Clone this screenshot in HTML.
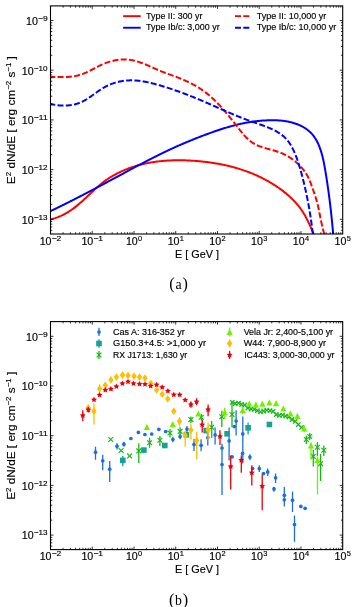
<!DOCTYPE html>
<html><head><meta charset="utf-8"><style>html,body{margin:0;padding:0;background:#fff;}svg{display:block;will-change:transform;} text{stroke:#000;stroke-width:0.15px;}</style></head><body>
<svg width="357" height="607" viewBox="0 0 357 607" font-family="Liberation Sans">
<rect width="357" height="607" fill="#fff"/>
<defs><clipPath id="ca"><rect x="50.50" y="5.90" width="292.20" height="228.10"/></clipPath><clipPath id="cb"><rect x="50.50" y="321.60" width="292.20" height="228.00"/></clipPath></defs>
<g clip-path="url(#ca)" fill="none" stroke-width="2.0" stroke-linejoin="round">
<path d="M50.50,219.50 L51.18,219.25 L51.97,219.06 L52.76,218.85 L53.54,218.63 L54.31,218.40 L55.08,218.16 L55.85,217.90 L56.61,217.63 L57.37,217.35 L58.13,217.06 L58.88,216.76 L59.62,216.45 L60.36,216.13 L61.10,215.80 L61.83,215.45 L62.56,215.10 L63.28,214.74 L64.00,214.37 L64.71,213.99 L65.42,213.60 L66.12,213.21 L66.82,212.80 L67.52,212.39 L68.20,211.97 L68.89,211.54 L69.57,211.10 L70.24,210.66 L70.91,210.21 L71.57,209.75 L72.23,209.29 L72.88,208.82 L73.53,208.34 L74.17,207.86 L74.81,207.38 L75.45,206.88 L76.08,206.39 L76.70,205.89 L77.33,205.38 L77.95,204.87 L78.56,204.36 L79.17,203.84 L79.78,203.32 L80.39,202.80 L80.99,202.27 L81.59,201.74 L82.19,201.21 L82.78,200.67 L83.37,200.14 L83.96,199.60 L84.55,199.06 L85.13,198.52 L85.71,197.98 L86.29,197.43 L86.87,196.89 L87.45,196.34 L88.03,195.80 L88.60,195.26 L89.17,194.71 L89.74,194.17 L90.32,193.63 L90.89,193.09 L91.46,192.55 L92.03,192.01 L92.59,191.47 L93.16,190.94 L93.73,190.40 L94.31,189.87 L94.88,189.34 L95.45,188.81 L96.03,188.29 L96.60,187.77 L97.18,187.25 L97.77,186.74 L98.35,186.22 L98.94,185.71 L99.53,185.21 L100.12,184.71 L100.72,184.21 L101.32,183.72 L101.93,183.23 L102.54,182.74 L103.15,182.26 L103.77,181.79 L104.40,181.32 L105.03,180.85 L105.67,180.39 L106.31,179.94 L106.96,179.49 L107.62,179.04 L108.28,178.60 L108.94,178.17 L109.61,177.74 L110.29,177.32 L110.97,176.90 L111.65,176.49 L112.34,176.08 L113.03,175.68 L113.73,175.28 L114.43,174.89 L115.14,174.51 L115.84,174.13 L116.56,173.75 L117.27,173.39 L117.99,173.02 L118.71,172.66 L119.44,172.31 L120.17,171.97 L120.90,171.63 L121.63,171.29 L122.36,170.96 L123.10,170.64 L123.84,170.32 L124.58,170.01 L125.33,169.70 L126.07,169.40 L126.82,169.10 L127.56,168.81 L128.31,168.53 L129.06,168.25 L129.82,167.97 L130.57,167.71 L131.33,167.44 L132.08,167.19 L132.84,166.93 L133.60,166.69 L134.36,166.44 L135.12,166.21 L135.89,165.98 L136.65,165.75 L137.42,165.53 L138.19,165.31 L138.96,165.10 L139.73,164.90 L140.50,164.70 L141.27,164.50 L142.04,164.31 L142.82,164.13 L143.60,163.94 L144.37,163.77 L145.15,163.60 L145.93,163.43 L146.71,163.27 L147.49,163.11 L148.27,162.96 L149.06,162.81 L149.84,162.67 L150.63,162.53 L151.41,162.39 L152.20,162.26 L152.99,162.14 L153.77,162.02 L154.56,161.90 L155.35,161.79 L156.14,161.68 L156.94,161.57 L157.73,161.48 L158.52,161.38 L159.32,161.29 L160.11,161.20 L160.90,161.12 L161.70,161.04 L162.50,160.96 L163.29,160.89 L164.09,160.83 L164.89,160.76 L165.69,160.70 L166.48,160.65 L167.28,160.59 L168.08,160.55 L168.88,160.50 L169.68,160.46 L170.48,160.42 L171.28,160.39 L172.09,160.36 L172.89,160.34 L173.69,160.31 L174.49,160.29 L175.29,160.28 L176.10,160.27 L176.90,160.26 L177.70,160.25 L178.50,160.25 L179.31,160.25 L180.11,160.25 L180.91,160.26 L181.72,160.27 L182.52,160.29 L183.32,160.30 L184.13,160.32 L184.93,160.35 L185.73,160.37 L186.54,160.40 L187.34,160.43 L188.14,160.47 L188.94,160.50 L189.75,160.54 L190.55,160.59 L191.35,160.63 L192.15,160.68 L192.95,160.73 L193.75,160.79 L194.56,160.84 L195.36,160.90 L196.16,160.96 L196.96,161.03 L197.75,161.10 L198.55,161.17 L199.35,161.24 L200.15,161.31 L200.95,161.39 L201.75,161.47 L202.54,161.55 L203.34,161.64 L204.13,161.73 L204.93,161.82 L205.72,161.91 L206.52,162.01 L207.31,162.11 L208.10,162.21 L208.90,162.32 L209.69,162.42 L210.48,162.54 L211.27,162.65 L212.06,162.77 L212.85,162.89 L213.64,163.01 L214.42,163.14 L215.21,163.26 L216.00,163.40 L216.78,163.53 L217.57,163.67 L218.35,163.81 L219.13,163.95 L219.92,164.10 L220.70,164.25 L221.48,164.41 L222.26,164.56 L223.04,164.72 L223.82,164.89 L224.59,165.05 L225.37,165.22 L226.14,165.40 L226.92,165.57 L227.69,165.75 L228.46,165.94 L229.24,166.12 L230.01,166.31 L230.78,166.51 L231.54,166.70 L232.31,166.90 L233.08,167.11 L233.84,167.32 L234.61,167.53 L235.37,167.74 L236.13,167.96 L236.89,168.18 L237.65,168.40 L238.41,168.63 L239.17,168.86 L239.92,169.10 L240.68,169.34 L241.43,169.58 L242.18,169.83 L242.93,170.08 L243.68,170.33 L244.43,170.59 L245.18,170.85 L245.92,171.12 L246.67,171.39 L247.41,171.66 L248.15,171.94 L248.89,172.22 L249.63,172.50 L250.37,172.79 L251.10,173.09 L251.84,173.38 L252.57,173.68 L253.30,173.99 L254.03,174.30 L254.76,174.61 L255.49,174.92 L256.21,175.25 L256.94,175.57 L257.66,175.90 L258.38,176.23 L259.10,176.57 L259.82,176.91 L260.53,177.26 L261.25,177.60 L261.96,177.96 L262.67,178.32 L263.38,178.68 L264.09,179.04 L264.79,179.42 L265.50,179.79 L266.20,180.17 L266.90,180.55 L267.60,180.94 L268.29,181.33 L268.99,181.73 L269.68,182.13 L270.37,182.54 L271.06,182.95 L271.75,183.36 L272.44,183.78 L273.12,184.21 L273.80,184.63 L274.48,185.07 L275.16,185.50 L275.84,185.95 L276.51,186.39 L277.18,186.84 L277.85,187.30 L278.52,187.76 L279.18,188.22 L279.84,188.69 L280.50,189.17 L281.16,189.65 L281.81,190.13 L282.46,190.62 L283.10,191.11 L283.74,191.61 L284.38,192.11 L285.01,192.61 L285.64,193.12 L286.27,193.64 L286.89,194.16 L287.50,194.68 L288.11,195.21 L288.72,195.74 L289.32,196.28 L289.92,196.82 L290.51,197.37 L291.09,197.92 L291.67,198.47 L292.25,199.03 L292.81,199.60 L293.37,200.17 L293.93,200.74 L294.48,201.32 L295.02,201.90 L295.56,202.49 L296.09,203.08 L296.61,203.67 L297.13,204.28 L297.63,204.88 L298.13,205.49 L298.63,206.10 L299.11,206.72 L299.59,207.34 L300.06,207.97 L300.52,208.60 L300.98,209.24 L301.42,209.88 L301.86,210.52 L302.29,211.17 L302.72,211.82 L303.14,212.48 L303.55,213.14 L303.95,213.81 L304.35,214.48 L304.75,215.15 L305.13,215.83 L305.52,216.52 L305.89,217.21 L306.27,217.90 L306.63,218.60 L307.00,219.30 L307.36,220.00 L307.71,220.71 L308.06,221.43 L308.41,222.15 L308.76,222.87 L309.10,223.60 L309.44,224.33 L309.77,225.06 L310.11,225.81 L310.44,226.55 L310.77,227.30 L311.10,228.05 L311.42,228.81 L311.75,229.57 L312.08,230.34 L312.40,231.11 L312.72,231.88 L313.05,232.66 L313.37,233.45 L313.80,234.00" stroke="#ff0000"/>
<path d="M50.50,211.30 L51.21,210.76 L51.92,210.43 L52.62,210.09 L53.33,209.75 L54.04,209.41 L54.74,209.07 L55.45,208.73 L56.16,208.39 L56.86,208.05 L57.57,207.70 L58.28,207.36 L58.99,207.01 L59.70,206.66 L60.41,206.32 L61.11,205.97 L61.82,205.62 L62.53,205.27 L63.24,204.92 L63.95,204.57 L64.66,204.21 L65.37,203.86 L66.09,203.50 L66.80,203.15 L67.51,202.79 L68.22,202.44 L68.93,202.08 L69.64,201.72 L70.36,201.36 L71.07,201.00 L71.78,200.64 L72.49,200.28 L73.21,199.92 L73.92,199.55 L74.63,199.19 L75.35,198.83 L76.06,198.46 L76.77,198.10 L77.49,197.73 L78.20,197.37 L78.91,197.00 L79.63,196.63 L80.34,196.26 L81.05,195.89 L81.77,195.53 L82.48,195.16 L83.20,194.79 L83.91,194.42 L84.62,194.04 L85.34,193.67 L86.05,193.30 L86.77,192.93 L87.48,192.55 L88.20,192.18 L88.91,191.81 L89.62,191.43 L90.34,191.06 L91.05,190.68 L91.77,190.31 L92.48,189.93 L93.19,189.56 L93.91,189.18 L94.62,188.80 L95.33,188.43 L96.05,188.05 L96.76,187.67 L97.47,187.29 L98.19,186.92 L98.90,186.54 L99.61,186.16 L100.32,185.78 L101.04,185.40 L101.75,185.02 L102.46,184.64 L103.17,184.26 L103.88,183.88 L104.59,183.51 L105.31,183.13 L106.02,182.75 L106.73,182.37 L107.44,181.99 L108.15,181.61 L108.86,181.23 L109.57,180.84 L110.28,180.46 L110.99,180.08 L111.70,179.70 L112.40,179.32 L113.11,178.94 L113.82,178.56 L114.53,178.18 L115.24,177.80 L115.94,177.42 L116.65,177.04 L117.36,176.66 L118.06,176.28 L118.77,175.90 L119.47,175.52 L120.18,175.14 L120.88,174.77 L121.59,174.39 L122.29,174.01 L122.99,173.63 L123.70,173.25 L124.40,172.87 L125.10,172.49 L125.80,172.12 L126.51,171.74 L127.21,171.36 L127.91,170.98 L128.61,170.61 L129.31,170.23 L130.01,169.85 L130.71,169.48 L131.41,169.10 L132.12,168.73 L132.82,168.35 L133.52,167.98 L134.22,167.61 L134.92,167.23 L135.62,166.86 L136.32,166.49 L137.02,166.11 L137.72,165.74 L138.42,165.37 L139.12,165.00 L139.83,164.63 L140.53,164.26 L141.23,163.89 L141.93,163.52 L142.63,163.15 L143.33,162.79 L144.04,162.42 L144.74,162.05 L145.44,161.69 L146.15,161.32 L146.85,160.96 L147.55,160.59 L148.26,160.23 L148.96,159.87 L149.67,159.50 L150.37,159.14 L151.08,158.78 L151.79,158.42 L152.49,158.06 L153.20,157.70 L153.91,157.35 L154.62,156.99 L155.33,156.63 L156.03,156.28 L156.75,155.92 L157.46,155.57 L158.17,155.22 L158.88,154.86 L159.59,154.51 L160.31,154.16 L161.02,153.81 L161.73,153.46 L162.45,153.11 L163.17,152.77 L163.88,152.42 L164.60,152.08 L165.32,151.73 L166.04,151.39 L166.76,151.05 L167.48,150.70 L168.20,150.36 L168.93,150.03 L169.65,149.69 L170.38,149.35 L171.10,149.01 L171.83,148.68 L172.56,148.34 L173.29,148.01 L174.01,147.68 L174.75,147.35 L175.48,147.02 L176.21,146.69 L176.94,146.36 L177.68,146.04 L178.41,145.71 L179.15,145.39 L179.88,145.06 L180.62,144.74 L181.36,144.42 L182.09,144.10 L182.83,143.78 L183.57,143.46 L184.31,143.15 L185.05,142.83 L185.80,142.52 L186.54,142.21 L187.28,141.90 L188.02,141.59 L188.77,141.28 L189.51,140.97 L190.26,140.66 L191.00,140.36 L191.75,140.05 L192.49,139.75 L193.24,139.45 L193.99,139.15 L194.73,138.85 L195.48,138.55 L196.23,138.25 L196.98,137.96 L197.73,137.67 L198.47,137.37 L199.22,137.08 L199.97,136.79 L200.72,136.50 L201.47,136.22 L202.22,135.93 L202.97,135.65 L203.72,135.36 L204.47,135.08 L205.22,134.80 L205.98,134.52 L206.73,134.25 L207.48,133.97 L208.23,133.69 L208.98,133.42 L209.73,133.15 L210.48,132.88 L211.23,132.61 L211.99,132.34 L212.74,132.08 L213.49,131.81 L214.24,131.55 L214.99,131.29 L215.74,131.03 L216.50,130.77 L217.25,130.52 L218.00,130.26 L218.75,130.01 L219.51,129.76 L220.26,129.52 L221.02,129.27 L221.77,129.03 L222.53,128.79 L223.28,128.55 L224.04,128.31 L224.79,128.08 L225.55,127.85 L226.31,127.62 L227.07,127.39 L227.83,127.17 L228.59,126.95 L229.35,126.73 L230.11,126.51 L230.87,126.30 L231.63,126.09 L232.39,125.88 L233.16,125.68 L233.92,125.47 L234.69,125.28 L235.46,125.08 L236.22,124.89 L236.99,124.70 L237.76,124.51 L238.53,124.33 L239.31,124.15 L240.08,123.98 L240.85,123.80 L241.63,123.64 L242.40,123.47 L243.18,123.31 L243.96,123.15 L244.74,123.00 L245.52,122.84 L246.31,122.70 L247.09,122.55 L247.87,122.42 L248.66,122.28 L249.45,122.15 L250.24,122.02 L251.03,121.90 L251.82,121.78 L252.62,121.66 L253.41,121.55 L254.21,121.45 L255.01,121.34 L255.80,121.25 L256.60,121.15 L257.40,121.06 L258.21,120.98 L259.01,120.90 L259.81,120.82 L260.62,120.75 L261.42,120.68 L262.22,120.62 L263.03,120.56 L263.84,120.51 L264.64,120.46 L265.45,120.42 L266.26,120.38 L267.06,120.34 L267.87,120.31 L268.68,120.29 L269.49,120.27 L270.29,120.25 L271.10,120.24 L271.91,120.23 L272.72,120.23 L273.52,120.24 L274.33,120.25 L275.14,120.27 L275.94,120.29 L276.75,120.33 L277.55,120.36 L278.36,120.41 L279.16,120.46 L279.96,120.52 L280.77,120.59 L281.57,120.67 L282.37,120.75 L283.17,120.84 L283.96,120.95 L284.76,121.06 L285.56,121.18 L286.35,121.31 L287.15,121.45 L287.94,121.60 L288.73,121.76 L289.52,121.93 L290.31,122.11 L291.09,122.31 L291.88,122.51 L292.66,122.72 L293.44,122.95 L294.21,123.19 L294.98,123.44 L295.75,123.70 L296.51,123.97 L297.26,124.25 L298.01,124.55 L298.76,124.86 L299.50,125.17 L300.22,125.51 L300.95,125.85 L301.66,126.20 L302.37,126.57 L303.06,126.95 L303.75,127.34 L304.42,127.74 L305.09,128.16 L305.74,128.59 L306.39,129.03 L307.02,129.48 L307.64,129.95 L308.24,130.43 L308.84,130.92 L309.41,131.43 L309.98,131.94 L310.53,132.48 L311.07,133.02 L311.59,133.58 L312.10,134.14 L312.59,134.72 L313.07,135.32 L313.54,135.92 L314.00,136.53 L314.44,137.16 L314.87,137.79 L315.29,138.43 L315.70,139.09 L316.09,139.75 L316.48,140.42 L316.85,141.10 L317.21,141.79 L317.56,142.49 L317.90,143.19 L318.24,143.90 L318.56,144.62 L318.87,145.35 L319.17,146.08 L319.46,146.82 L319.75,147.56 L320.03,148.31 L320.29,149.07 L320.55,149.83 L320.81,150.59 L321.05,151.36 L321.29,152.13 L321.52,152.91 L321.74,153.69 L321.96,154.47 L322.17,155.26 L322.37,156.05 L322.57,156.85 L322.76,157.64 L322.95,158.44 L323.13,159.25 L323.31,160.05 L323.48,160.85 L323.65,161.66 L323.82,162.47 L323.98,163.28 L324.13,164.09 L324.29,164.90 L324.44,165.71 L324.58,166.53 L324.73,167.34 L324.87,168.15 L325.01,168.96 L325.15,169.77 L325.29,170.58 L325.42,171.39 L325.56,172.20 L325.69,173.01 L325.82,173.81 L325.95,174.62 L326.08,175.42 L326.21,176.22 L326.34,177.03 L326.47,177.83 L326.59,178.63 L326.72,179.42 L326.84,180.22 L326.96,181.02 L327.08,181.81 L327.20,182.61 L327.32,183.40 L327.44,184.20 L327.56,184.99 L327.67,185.78 L327.79,186.57 L327.90,187.36 L328.02,188.15 L328.13,188.94 L328.24,189.73 L328.35,190.52 L328.46,191.31 L328.57,192.09 L328.67,192.88 L328.78,193.67 L328.89,194.45 L328.99,195.24 L329.10,196.03 L329.20,196.81 L329.30,197.60 L329.40,198.38 L329.50,199.16 L329.60,199.95 L329.70,200.73 L329.80,201.52 L329.89,202.30 L329.99,203.09 L330.08,203.87 L330.18,204.65 L330.27,205.44 L330.36,206.22 L330.46,207.01 L330.55,207.79 L330.64,208.58 L330.73,209.36 L330.82,210.15 L330.90,210.93 L330.99,211.72 L331.08,212.50 L331.16,213.29 L331.25,214.08 L331.33,214.86 L331.41,215.65 L331.50,216.44 L331.58,217.23 L331.66,218.02 L331.74,218.81 L331.82,219.60 L331.90,220.39 L331.98,221.18 L332.06,221.97 L332.14,222.77 L332.21,223.56 L332.29,224.36 L332.36,225.15 L332.44,225.95 L332.51,226.75 L332.59,227.55 L332.66,228.34 L332.73,229.15 L332.80,229.95 L332.88,230.75 L332.95,231.55 L333.02,232.36 L333.09,233.16 L333.10,234.00" stroke="#0000ff"/>
<path d="M50.50,77.20 L51.29,77.03 L52.06,77.04 L52.84,77.04 L53.62,77.06 L54.40,77.07 L55.19,77.08 L55.98,77.09 L56.78,77.10 L57.58,77.11 L58.38,77.12 L59.19,77.12 L60.00,77.12 L60.81,77.12 L61.62,77.12 L62.43,77.11 L63.25,77.09 L64.06,77.08 L64.88,77.05 L65.69,77.02 L66.51,76.98 L67.33,76.94 L68.14,76.89 L68.95,76.82 L69.77,76.76 L70.58,76.68 L71.39,76.59 L72.19,76.49 L73.00,76.38 L73.80,76.27 L74.60,76.14 L75.39,75.99 L76.18,75.84 L76.97,75.67 L77.75,75.49 L78.53,75.29 L79.30,75.08 L80.07,74.86 L80.83,74.62 L81.58,74.37 L82.33,74.10 L83.08,73.82 L83.82,73.53 L84.56,73.22 L85.29,72.91 L86.02,72.59 L86.75,72.25 L87.47,71.91 L88.19,71.57 L88.91,71.21 L89.62,70.85 L90.33,70.49 L91.05,70.12 L91.76,69.75 L92.46,69.38 L93.17,69.00 L93.88,68.63 L94.59,68.25 L95.30,67.88 L96.00,67.51 L96.71,67.14 L97.42,66.77 L98.13,66.41 L98.84,66.06 L99.56,65.71 L100.27,65.36 L100.99,65.03 L101.71,64.70 L102.43,64.38 L103.16,64.07 L103.89,63.77 L104.62,63.47 L105.35,63.18 L106.08,62.91 L106.82,62.64 L107.56,62.38 L108.30,62.13 L109.05,61.89 L109.80,61.66 L110.55,61.44 L111.30,61.23 L112.06,61.04 L112.82,60.85 L113.58,60.67 L114.34,60.51 L115.11,60.35 L115.88,60.21 L116.65,60.08 L117.43,59.96 L118.21,59.86 L118.99,59.76 L119.77,59.68 L120.56,59.61 L121.35,59.56 L122.14,59.52 L122.94,59.49 L123.73,59.47 L124.53,59.47 L125.33,59.49 L126.13,59.52 L126.92,59.56 L127.72,59.62 L128.52,59.69 L129.31,59.78 L130.10,59.88 L130.90,60.00 L131.68,60.13 L132.47,60.28 L133.25,60.44 L134.04,60.61 L134.82,60.80 L135.59,61.00 L136.37,61.21 L137.14,61.44 L137.92,61.67 L138.69,61.91 L139.45,62.17 L140.22,62.43 L140.99,62.70 L141.75,62.98 L142.51,63.26 L143.27,63.56 L144.03,63.86 L144.79,64.16 L145.55,64.47 L146.30,64.79 L147.05,65.11 L147.81,65.43 L148.56,65.76 L149.31,66.09 L150.06,66.42 L150.80,66.75 L151.55,67.09 L152.30,67.42 L153.04,67.76 L153.79,68.09 L154.53,68.43 L155.27,68.76 L156.01,69.09 L156.75,69.41 L157.49,69.74 L158.23,70.06 L158.97,70.38 L159.71,70.69 L160.45,70.99 L161.18,71.29 L161.92,71.59 L162.66,71.88 L163.39,72.17 L164.13,72.45 L164.86,72.73 L165.60,73.01 L166.33,73.28 L167.07,73.55 L167.80,73.82 L168.54,74.09 L169.27,74.36 L170.01,74.63 L170.75,74.89 L171.48,75.16 L172.22,75.43 L172.95,75.69 L173.69,75.96 L174.42,76.23 L175.16,76.51 L175.90,76.78 L176.64,77.06 L177.37,77.34 L178.11,77.62 L178.85,77.91 L179.59,78.20 L180.33,78.50 L181.07,78.80 L181.82,79.11 L182.56,79.42 L183.30,79.74 L184.04,80.06 L184.78,80.38 L185.52,80.72 L186.26,81.05 L186.99,81.39 L187.73,81.74 L188.46,82.09 L189.20,82.44 L189.93,82.80 L190.65,83.17 L191.38,83.54 L192.10,83.91 L192.81,84.29 L193.53,84.68 L194.24,85.06 L194.95,85.46 L195.65,85.86 L196.35,86.26 L197.04,86.67 L197.73,87.08 L198.41,87.50 L199.09,87.92 L199.76,88.35 L200.43,88.78 L201.09,89.22 L201.74,89.66 L202.39,90.11 L203.04,90.56 L203.68,91.02 L204.31,91.48 L204.94,91.95 L205.56,92.42 L206.18,92.90 L206.79,93.38 L207.40,93.87 L208.01,94.36 L208.61,94.85 L209.21,95.35 L209.80,95.86 L210.39,96.37 L210.98,96.89 L211.56,97.41 L212.14,97.93 L212.72,98.46 L213.29,99.00 L213.86,99.54 L214.43,100.08 L215.00,100.63 L215.56,101.19 L216.12,101.75 L216.68,102.31 L217.24,102.88 L217.80,103.46 L218.35,104.04 L218.90,104.62 L219.46,105.21 L220.01,105.80 L220.56,106.40 L221.11,107.01 L221.65,107.62 L222.20,108.23 L222.74,108.84 L223.29,109.46 L223.83,110.09 L224.37,110.71 L224.91,111.34 L225.45,111.98 L225.99,112.61 L226.52,113.25 L227.06,113.89 L227.59,114.53 L228.12,115.17 L228.65,115.82 L229.18,116.47 L229.71,117.11 L230.23,117.76 L230.75,118.41 L231.27,119.06 L231.79,119.71 L232.31,120.35 L232.82,121.00 L233.33,121.65 L233.84,122.30 L234.35,122.94 L234.86,123.58 L235.36,124.23 L235.86,124.87 L236.36,125.51 L236.85,126.14 L237.35,126.78 L237.84,127.41 L238.33,128.03 L238.81,128.66 L239.30,129.28 L239.78,129.90 L240.26,130.51 L240.73,131.12 L241.21,131.73 L241.68,132.33 L242.16,132.92 L242.64,133.51 L243.12,134.10 L243.61,134.68 L244.11,135.25 L244.62,135.82 L245.13,136.38 L245.66,136.94 L246.20,137.49 L246.75,138.03 L247.31,138.56 L247.87,139.08 L248.45,139.60 L249.05,140.10 L249.65,140.59 L250.26,141.08 L250.88,141.55 L251.51,142.00 L252.16,142.45 L252.81,142.88 L253.48,143.29 L254.15,143.69 L254.83,144.08 L255.53,144.45 L256.23,144.80 L256.95,145.14 L257.67,145.47 L258.40,145.78 L259.14,146.08 L259.88,146.37 L260.64,146.65 L261.39,146.92 L262.16,147.18 L262.93,147.43 L263.70,147.67 L264.48,147.91 L265.26,148.14 L266.04,148.37 L266.82,148.59 L267.61,148.81 L268.40,149.03 L269.19,149.25 L269.98,149.46 L270.77,149.67 L271.56,149.89 L272.34,150.11 L273.13,150.33 L273.91,150.55 L274.69,150.77 L275.47,151.01 L276.24,151.24 L277.01,151.49 L277.77,151.74 L278.53,152.00 L279.28,152.26 L280.02,152.54 L280.76,152.83 L281.49,153.13 L282.22,153.44 L282.93,153.76 L283.64,154.08 L284.35,154.42 L285.05,154.77 L285.74,155.14 L286.43,155.51 L287.11,155.89 L287.79,156.28 L288.46,156.68 L289.13,157.09 L289.80,157.52 L290.46,157.95 L291.12,158.39 L291.77,158.84 L292.42,159.31 L293.06,159.78 L293.69,160.26 L294.33,160.75 L294.95,161.25 L295.57,161.76 L296.18,162.28 L296.79,162.80 L297.38,163.34 L297.97,163.88 L298.56,164.44 L299.13,165.00 L299.70,165.57 L300.25,166.14 L300.80,166.73 L301.34,167.32 L301.87,167.92 L302.38,168.53 L302.89,169.14 L303.39,169.76 L303.87,170.39 L304.35,171.03 L304.81,171.67 L305.26,172.32 L305.70,172.97 L306.13,173.64 L306.54,174.30 L306.94,174.98 L307.33,175.66 L307.70,176.34 L308.06,177.03 L308.41,177.73 L308.74,178.43 L309.06,179.14 L309.38,179.85 L309.68,180.57 L309.98,181.29 L310.27,182.01 L310.55,182.74 L310.83,183.48 L311.10,184.22 L311.37,184.96 L311.63,185.71 L311.90,186.46 L312.16,187.21 L312.43,187.97 L312.69,188.73 L312.96,189.49 L313.22,190.26 L313.49,191.03 L313.76,191.80 L314.03,192.58 L314.29,193.36 L314.56,194.14 L314.82,194.92 L315.08,195.70 L315.34,196.49 L315.59,197.28 L315.84,198.07 L316.09,198.86 L316.33,199.65 L316.56,200.45 L316.79,201.24 L317.01,202.04 L317.23,202.83 L317.43,203.63 L317.63,204.43 L317.82,205.23 L318.01,206.02 L318.19,206.82 L318.36,207.62 L318.53,208.42 L318.70,209.22 L318.86,210.01 L319.02,210.81 L319.17,211.61 L319.33,212.40 L319.48,213.19 L319.64,213.99 L319.79,214.78 L319.94,215.57 L320.10,216.36 L320.25,217.14 L320.41,217.93 L320.57,218.71 L320.74,219.49 L320.90,220.27 L321.07,221.04 L321.24,221.82 L321.41,222.59 L321.59,223.35 L321.76,224.12 L321.94,224.88 L322.11,225.64 L322.29,226.39 L322.47,227.14 L322.65,227.89 L322.83,228.63 L323.01,229.37 L323.20,230.11 L323.38,230.84 L323.56,231.57 L323.75,232.29 L323.93,233.00 L324.10,234.00" stroke="#ff0000" stroke-dasharray="6.0,2.3" stroke-dashoffset="1.2"/>
<path d="M50.50,104.10 L51.27,104.09 L52.04,104.26 L52.81,104.43 L53.59,104.59 L54.37,104.73 L55.16,104.87 L55.95,104.99 L56.75,105.11 L57.55,105.21 L58.35,105.30 L59.15,105.38 L59.96,105.44 L60.77,105.50 L61.58,105.54 L62.39,105.57 L63.21,105.59 L64.02,105.59 L64.84,105.58 L65.65,105.56 L66.46,105.53 L67.28,105.48 L68.09,105.42 L68.90,105.34 L69.70,105.25 L70.51,105.15 L71.31,105.03 L72.11,104.90 L72.90,104.75 L73.69,104.59 L74.48,104.41 L75.26,104.22 L76.04,104.01 L76.81,103.79 L77.57,103.55 L78.33,103.29 L79.08,103.02 L79.83,102.73 L80.57,102.43 L81.29,102.11 L82.02,101.78 L82.73,101.43 L83.44,101.06 L84.15,100.69 L84.84,100.30 L85.54,99.90 L86.22,99.50 L86.91,99.08 L87.58,98.65 L88.26,98.22 L88.92,97.78 L89.59,97.33 L90.25,96.88 L90.91,96.42 L91.57,95.96 L92.22,95.50 L92.87,95.03 L93.52,94.56 L94.17,94.10 L94.82,93.63 L95.46,93.16 L96.11,92.70 L96.75,92.24 L97.40,91.78 L98.04,91.33 L98.69,90.88 L99.33,90.44 L99.98,90.00 L100.63,89.58 L101.28,89.16 L101.93,88.74 L102.59,88.34 L103.25,87.94 L103.91,87.56 L104.58,87.18 L105.26,86.81 L105.94,86.44 L106.62,86.09 L107.31,85.75 L108.01,85.41 L108.72,85.09 L109.44,84.77 L110.16,84.47 L110.89,84.17 L111.64,83.88 L112.38,83.61 L113.14,83.34 L113.91,83.09 L114.68,82.84 L115.45,82.61 L116.23,82.39 L117.02,82.17 L117.81,81.97 L118.60,81.78 L119.40,81.60 L120.20,81.44 L121.00,81.28 L121.80,81.14 L122.60,81.01 L123.40,80.89 L124.21,80.78 L125.01,80.69 L125.81,80.61 L126.61,80.54 L127.41,80.48 L128.21,80.43 L129.01,80.39 L129.81,80.37 L130.60,80.35 L131.40,80.35 L132.20,80.36 L132.99,80.37 L133.78,80.40 L134.58,80.44 L135.37,80.48 L136.16,80.54 L136.95,80.60 L137.74,80.68 L138.53,80.76 L139.32,80.85 L140.11,80.94 L140.90,81.05 L141.69,81.16 L142.47,81.28 L143.26,81.41 L144.04,81.54 L144.83,81.68 L145.61,81.83 L146.39,81.99 L147.18,82.14 L147.96,82.31 L148.74,82.48 L149.52,82.66 L150.30,82.84 L151.07,83.02 L151.85,83.21 L152.63,83.41 L153.41,83.61 L154.18,83.81 L154.96,84.02 L155.73,84.23 L156.50,84.44 L157.28,84.66 L158.05,84.88 L158.82,85.10 L159.59,85.32 L160.36,85.55 L161.13,85.78 L161.90,86.01 L162.67,86.24 L163.43,86.47 L164.20,86.71 L164.97,86.95 L165.73,87.19 L166.49,87.43 L167.26,87.67 L168.02,87.92 L168.78,88.16 L169.55,88.41 L170.31,88.66 L171.07,88.91 L171.83,89.17 L172.58,89.42 L173.34,89.68 L174.10,89.94 L174.86,90.20 L175.61,90.46 L176.37,90.73 L177.12,90.99 L177.88,91.26 L178.63,91.53 L179.38,91.80 L180.13,92.07 L180.88,92.35 L181.64,92.62 L182.38,92.90 L183.13,93.18 L183.88,93.46 L184.63,93.74 L185.38,94.02 L186.12,94.30 L186.87,94.59 L187.61,94.88 L188.36,95.16 L189.10,95.45 L189.84,95.75 L190.59,96.04 L191.33,96.33 L192.07,96.63 L192.81,96.92 L193.55,97.22 L194.29,97.52 L195.02,97.82 L195.76,98.12 L196.50,98.42 L197.23,98.73 L197.97,99.03 L198.70,99.34 L199.44,99.64 L200.17,99.95 L200.90,100.26 L201.64,100.57 L202.37,100.88 L203.10,101.20 L203.83,101.51 L204.56,101.82 L205.29,102.14 L206.02,102.46 L206.74,102.77 L207.47,103.09 L208.20,103.41 L208.93,103.73 L209.65,104.04 L210.38,104.36 L211.11,104.68 L211.83,105.00 L212.56,105.32 L213.29,105.65 L214.01,105.97 L214.74,106.29 L215.46,106.61 L216.19,106.93 L216.91,107.25 L217.64,107.57 L218.37,107.90 L219.09,108.22 L219.82,108.54 L220.54,108.86 L221.27,109.18 L222.00,109.50 L222.72,109.82 L223.45,110.14 L224.18,110.46 L224.91,110.78 L225.64,111.10 L226.36,111.41 L227.09,111.73 L227.82,112.05 L228.55,112.36 L229.28,112.68 L230.02,112.99 L230.75,113.30 L231.48,113.62 L232.21,113.93 L232.95,114.24 L233.68,114.55 L234.42,114.86 L235.15,115.16 L235.89,115.47 L236.63,115.77 L237.37,116.07 L238.11,116.38 L238.85,116.68 L239.59,116.98 L240.33,117.27 L241.08,117.57 L241.82,117.86 L242.57,118.15 L243.32,118.44 L244.06,118.73 L244.81,119.02 L245.56,119.31 L246.32,119.59 L247.07,119.87 L247.82,120.15 L248.58,120.43 L249.34,120.70 L250.10,120.98 L250.86,121.25 L251.62,121.52 L252.38,121.78 L253.15,122.05 L253.91,122.31 L254.68,122.58 L255.44,122.84 L256.21,123.11 L256.97,123.37 L257.74,123.64 L258.50,123.90 L259.27,124.17 L260.03,124.44 L260.79,124.71 L261.55,124.98 L262.31,125.26 L263.07,125.53 L263.83,125.82 L264.58,126.10 L265.34,126.39 L266.09,126.68 L266.84,126.97 L267.58,127.27 L268.33,127.58 L269.07,127.89 L269.80,128.20 L270.54,128.53 L271.27,128.85 L271.99,129.19 L272.72,129.53 L273.43,129.87 L274.14,130.23 L274.85,130.59 L275.55,130.96 L276.24,131.34 L276.93,131.72 L277.60,132.12 L278.27,132.52 L278.93,132.93 L279.59,133.36 L280.23,133.79 L280.86,134.23 L281.48,134.69 L282.09,135.15 L282.69,135.63 L283.28,136.11 L283.86,136.61 L284.42,137.12 L284.97,137.65 L285.51,138.18 L286.03,138.73 L286.54,139.29 L287.04,139.86 L287.52,140.45 L288.00,141.04 L288.46,141.65 L288.91,142.27 L289.35,142.89 L289.78,143.53 L290.20,144.18 L290.61,144.84 L291.01,145.50 L291.40,146.18 L291.78,146.86 L292.15,147.55 L292.52,148.25 L292.87,148.96 L293.22,149.68 L293.57,150.40 L293.90,151.13 L294.23,151.86 L294.55,152.61 L294.87,153.36 L295.18,154.11 L295.49,154.87 L295.79,155.63 L296.09,156.40 L296.38,157.18 L296.67,157.95 L296.95,158.74 L297.23,159.52 L297.51,160.31 L297.78,161.10 L298.04,161.90 L298.30,162.69 L298.56,163.49 L298.81,164.29 L299.06,165.10 L299.31,165.90 L299.55,166.70 L299.79,167.51 L300.03,168.31 L300.26,169.12 L300.49,169.93 L300.72,170.73 L300.94,171.53 L301.16,172.34 L301.38,173.14 L301.59,173.94 L301.81,174.74 L302.02,175.53 L302.23,176.33 L302.43,177.12 L302.64,177.91 L302.84,178.69 L303.04,179.48 L303.23,180.26 L303.43,181.04 L303.62,181.82 L303.81,182.59 L304.00,183.37 L304.19,184.14 L304.37,184.91 L304.55,185.68 L304.73,186.45 L304.91,187.22 L305.09,187.98 L305.26,188.75 L305.43,189.51 L305.61,190.28 L305.77,191.04 L305.94,191.80 L306.11,192.56 L306.27,193.32 L306.43,194.08 L306.59,194.84 L306.75,195.60 L306.90,196.36 L307.06,197.11 L307.21,197.87 L307.36,198.63 L307.51,199.39 L307.66,200.15 L307.81,200.91 L307.95,201.67 L308.10,202.43 L308.24,203.18 L308.38,203.95 L308.52,204.71 L308.66,205.47 L308.79,206.23 L308.93,207.00 L309.06,207.76 L309.19,208.53 L309.32,209.29 L309.45,210.06 L309.58,210.83 L309.71,211.60 L309.84,212.37 L309.96,213.15 L310.08,213.92 L310.21,214.70 L310.33,215.48 L310.45,216.26 L310.57,217.05 L310.69,217.83 L310.80,218.62 L310.92,219.41 L311.04,220.20 L311.15,221.00 L311.26,221.79 L311.38,222.59 L311.49,223.40 L311.60,224.20 L311.71,225.01 L311.82,225.82 L311.93,226.64 L312.03,227.45 L312.14,228.28 L312.25,229.10 L312.35,229.93 L312.46,230.76 L312.56,231.59 L312.67,232.43 L312.77,233.27 L312.90,234.00" stroke="#0000ff" stroke-dasharray="6.0,2.3" stroke-dashoffset="1.2"/>
</g>
<path d="M63.07,234.00V232.20M63.07,5.90V7.70M70.42,234.00V232.20M70.42,5.90V7.70M75.63,234.00V232.20M75.63,5.90V7.70M79.68,234.00V232.20M79.68,5.90V7.70M82.98,234.00V232.20M82.98,5.90V7.70M85.78,234.00V232.20M85.78,5.90V7.70M88.20,234.00V232.20M88.20,5.90V7.70M90.33,234.00V232.20M90.33,5.90V7.70M92.24,234.00V231.00M92.24,5.90V8.90M104.81,234.00V232.20M104.81,5.90V7.70M112.16,234.00V232.20M112.16,5.90V7.70M117.37,234.00V232.20M117.37,5.90V7.70M121.42,234.00V232.20M121.42,5.90V7.70M124.73,234.00V232.20M124.73,5.90V7.70M127.52,234.00V232.20M127.52,5.90V7.70M129.94,234.00V232.20M129.94,5.90V7.70M132.08,234.00V232.20M132.08,5.90V7.70M133.99,234.00V231.00M133.99,5.90V8.90M146.55,234.00V232.20M146.55,5.90V7.70M153.90,234.00V232.20M153.90,5.90V7.70M159.12,234.00V232.20M159.12,5.90V7.70M163.16,234.00V232.20M163.16,5.90V7.70M166.47,234.00V232.20M166.47,5.90V7.70M169.26,234.00V232.20M169.26,5.90V7.70M171.68,234.00V232.20M171.68,5.90V7.70M173.82,234.00V232.20M173.82,5.90V7.70M175.73,234.00V231.00M175.73,5.90V8.90M188.29,234.00V232.20M188.29,5.90V7.70M195.64,234.00V232.20M195.64,5.90V7.70M200.86,234.00V232.20M200.86,5.90V7.70M204.91,234.00V232.20M204.91,5.90V7.70M208.21,234.00V232.20M208.21,5.90V7.70M211.01,234.00V232.20M211.01,5.90V7.70M213.43,234.00V232.20M213.43,5.90V7.70M215.56,234.00V232.20M215.56,5.90V7.70M217.47,234.00V231.00M217.47,5.90V8.90M230.04,234.00V232.20M230.04,5.90V7.70M237.39,234.00V232.20M237.39,5.90V7.70M242.60,234.00V232.20M242.60,5.90V7.70M246.65,234.00V232.20M246.65,5.90V7.70M249.95,234.00V232.20M249.95,5.90V7.70M252.75,234.00V232.20M252.75,5.90V7.70M255.17,234.00V232.20M255.17,5.90V7.70M257.30,234.00V232.20M257.30,5.90V7.70M259.21,234.00V231.00M259.21,5.90V8.90M271.78,234.00V232.20M271.78,5.90V7.70M279.13,234.00V232.20M279.13,5.90V7.70M284.35,234.00V232.20M284.35,5.90V7.70M288.39,234.00V232.20M288.39,5.90V7.70M291.70,234.00V232.20M291.70,5.90V7.70M294.49,234.00V232.20M294.49,5.90V7.70M296.91,234.00V232.20M296.91,5.90V7.70M299.05,234.00V232.20M299.05,5.90V7.70M300.96,234.00V231.00M300.96,5.90V8.90M313.52,234.00V232.20M313.52,5.90V7.70M320.87,234.00V232.20M320.87,5.90V7.70M326.09,234.00V232.20M326.09,5.90V7.70M330.13,234.00V232.20M330.13,5.90V7.70M333.44,234.00V232.20M333.44,5.90V7.70M336.23,234.00V232.20M336.23,5.90V7.70M338.65,234.00V232.20M338.65,5.90V7.70M340.79,234.00V232.20M340.79,5.90V7.70M50.50,230.33H52.30M342.70,230.33H340.90M50.50,227.00H52.30M342.70,227.00H340.90M50.50,224.12H52.30M342.70,224.12H340.90M50.50,221.57H52.30M342.70,221.57H340.90M50.50,219.30H53.50M342.70,219.30H339.70M50.50,204.34H52.30M342.70,204.34H340.90M50.50,195.59H52.30M342.70,195.59H340.90M50.50,189.38H52.30M342.70,189.38H340.90M50.50,184.56H52.30M342.70,184.56H340.90M50.50,180.63H52.30M342.70,180.63H340.90M50.50,177.30H52.30M342.70,177.30H340.90M50.50,174.42H52.30M342.70,174.42H340.90M50.50,171.87H52.30M342.70,171.87H340.90M50.50,169.60H53.50M342.70,169.60H339.70M50.50,154.64H52.30M342.70,154.64H340.90M50.50,145.89H52.30M342.70,145.89H340.90M50.50,139.68H52.30M342.70,139.68H340.90M50.50,134.86H52.30M342.70,134.86H340.90M50.50,130.93H52.30M342.70,130.93H340.90M50.50,127.60H52.30M342.70,127.60H340.90M50.50,124.72H52.30M342.70,124.72H340.90M50.50,122.17H52.30M342.70,122.17H340.90M50.50,119.90H53.50M342.70,119.90H339.70M50.50,104.94H52.30M342.70,104.94H340.90M50.50,96.19H52.30M342.70,96.19H340.90M50.50,89.98H52.30M342.70,89.98H340.90M50.50,85.16H52.30M342.70,85.16H340.90M50.50,81.23H52.30M342.70,81.23H340.90M50.50,77.90H52.30M342.70,77.90H340.90M50.50,75.02H52.30M342.70,75.02H340.90M50.50,72.47H52.30M342.70,72.47H340.90M50.50,70.20H53.50M342.70,70.20H339.70M50.50,55.24H52.30M342.70,55.24H340.90M50.50,46.49H52.30M342.70,46.49H340.90M50.50,40.28H52.30M342.70,40.28H340.90M50.50,35.46H52.30M342.70,35.46H340.90M50.50,31.53H52.30M342.70,31.53H340.90M50.50,28.20H52.30M342.70,28.20H340.90M50.50,25.32H52.30M342.70,25.32H340.90M50.50,22.77H52.30M342.70,22.77H340.90M50.50,20.50H53.50M342.70,20.50H339.70" stroke="#000" stroke-width="0.80" fill="none"/>
<rect x="50.50" y="5.90" width="292.20" height="228.10" fill="none" stroke="#000" stroke-width="1.1"/>
<text x="39.69" y="244.50" font-size="10.0" textLength="11.83" lengthAdjust="spacingAndGlyphs">10</text>
<text x="51.72" y="240.50" font-size="7.0" textLength="9.58" lengthAdjust="spacingAndGlyphs">−2</text>
<text x="81.44" y="244.50" font-size="10.0" textLength="11.83" lengthAdjust="spacingAndGlyphs">10</text>
<text x="93.47" y="240.50" font-size="7.0" textLength="9.58" lengthAdjust="spacingAndGlyphs">−1</text>
<text x="125.90" y="244.50" font-size="10.0" textLength="11.83" lengthAdjust="spacingAndGlyphs">10</text>
<text x="137.93" y="240.50" font-size="7.0" textLength="4.13" lengthAdjust="spacingAndGlyphs">0</text>
<text x="167.65" y="244.50" font-size="10.0" textLength="11.83" lengthAdjust="spacingAndGlyphs">10</text>
<text x="179.68" y="240.50" font-size="7.0" textLength="4.13" lengthAdjust="spacingAndGlyphs">1</text>
<text x="209.39" y="244.50" font-size="10.0" textLength="11.83" lengthAdjust="spacingAndGlyphs">10</text>
<text x="221.42" y="240.50" font-size="7.0" textLength="4.13" lengthAdjust="spacingAndGlyphs">2</text>
<text x="251.13" y="244.50" font-size="10.0" textLength="11.83" lengthAdjust="spacingAndGlyphs">10</text>
<text x="263.16" y="240.50" font-size="7.0" textLength="4.13" lengthAdjust="spacingAndGlyphs">3</text>
<text x="292.88" y="244.50" font-size="10.0" textLength="11.83" lengthAdjust="spacingAndGlyphs">10</text>
<text x="304.90" y="240.50" font-size="7.0" textLength="4.13" lengthAdjust="spacingAndGlyphs">4</text>
<text x="334.62" y="244.50" font-size="10.0" textLength="11.83" lengthAdjust="spacingAndGlyphs">10</text>
<text x="346.65" y="240.50" font-size="7.0" textLength="4.13" lengthAdjust="spacingAndGlyphs">5</text>
<text x="21.86" y="223.60" font-size="10.0" textLength="11.83" lengthAdjust="spacingAndGlyphs">10</text>
<text x="33.89" y="219.60" font-size="7.0" textLength="13.71" lengthAdjust="spacingAndGlyphs">−13</text>
<text x="21.86" y="173.90" font-size="10.0" textLength="11.83" lengthAdjust="spacingAndGlyphs">10</text>
<text x="33.89" y="169.90" font-size="7.0" textLength="13.71" lengthAdjust="spacingAndGlyphs">−12</text>
<text x="21.86" y="124.20" font-size="10.0" textLength="11.83" lengthAdjust="spacingAndGlyphs">10</text>
<text x="33.89" y="120.20" font-size="7.0" textLength="13.71" lengthAdjust="spacingAndGlyphs">−11</text>
<text x="21.86" y="74.50" font-size="10.0" textLength="11.83" lengthAdjust="spacingAndGlyphs">10</text>
<text x="33.89" y="70.50" font-size="7.0" textLength="13.71" lengthAdjust="spacingAndGlyphs">−10</text>
<text x="25.99" y="24.80" font-size="10.0" textLength="11.83" lengthAdjust="spacingAndGlyphs">10</text>
<text x="38.02" y="20.80" font-size="7.0" textLength="9.58" lengthAdjust="spacingAndGlyphs">−9</text>
<text x="197.10" y="257.70" font-size="10.5" text-anchor="middle" textLength="44" lengthAdjust="spacingAndGlyphs">E [ GeV ]</text>
<text transform="translate(14.9,120.15) rotate(-90)" font-size="10.5" text-anchor="middle" textLength="128" lengthAdjust="spacingAndGlyphs">E<tspan font-size="7" dy="-4">2</tspan><tspan dy="4"> dN/dE [ erg cm</tspan><tspan font-size="7" dy="-4">−2</tspan><tspan dy="4"> s</tspan><tspan font-size="7" dy="-4">−1</tspan><tspan dy="4"> ]</tspan></text>
<path d="M123.10,16.15H140.70" stroke="#ff0000" stroke-width="1.9"/>
<path d="M123.10,27.75H140.70" stroke="#0000ff" stroke-width="1.9"/>
<path d="M235.00,16.15H249.40" stroke="#ff0000" stroke-width="1.9" stroke-dasharray="6.0,2.3"/>
<path d="M235.00,27.75H249.40" stroke="#0000ff" stroke-width="1.9" stroke-dasharray="6.0,2.3"/>
<text x="146.05" y="18.60" font-size="8.40" textLength="56.40" lengthAdjust="spacingAndGlyphs">Type II: 300 yr</text>
<text x="146.05" y="30.30" font-size="8.40" textLength="73.70" lengthAdjust="spacingAndGlyphs">Type Ib/c: 3,000 yr</text>
<text x="256.65" y="18.60" font-size="8.40" textLength="69.70" lengthAdjust="spacingAndGlyphs">Type II: 10,000 yr</text>
<text x="256.65" y="30.30" font-size="8.40" textLength="79.70" lengthAdjust="spacingAndGlyphs">Type Ib/c: 10,000 yr</text>
<text x="178.5" y="289.0" font-size="16.2" text-anchor="middle" font-family="Liberation Serif" style="stroke:none" textLength="18.6" lengthAdjust="spacing">(<tspan font-size="13.8">a</tspan>)</text>
<g clip-path="url(#cb)">
<path d="M95.50,446.80V459.80" stroke="#1a70dc" stroke-width="1.30"/>
<circle cx="95.50" cy="452.20" r="1.85" fill="#1a70dc"/>
<path d="M102.70,454.70V469.90" stroke="#1a70dc" stroke-width="1.30"/>
<circle cx="102.70" cy="460.80" r="1.85" fill="#1a70dc"/>
<path d="M109.70,461.10V482.10" stroke="#1a70dc" stroke-width="1.30"/>
<circle cx="109.70" cy="469.20" r="1.85" fill="#1a70dc"/>
<path d="M117.00,443.30V449.60" stroke="#1a70dc" stroke-width="1.30"/>
<circle cx="117.00" cy="446.20" r="1.85" fill="#1a70dc"/>
<path d="M123.90,441.80V446.80" stroke="#1a70dc" stroke-width="1.30"/>
<circle cx="123.90" cy="444.20" r="1.85" fill="#1a70dc"/>
<circle cx="130.90" cy="438.50" r="1.85" fill="#1a70dc"/>
<circle cx="138.40" cy="432.40" r="1.85" fill="#1a70dc"/>
<circle cx="144.90" cy="434.50" r="1.85" fill="#1a70dc"/>
<circle cx="151.70" cy="434.00" r="1.85" fill="#1a70dc"/>
<circle cx="158.90" cy="429.30" r="1.85" fill="#1a70dc"/>
<circle cx="165.70" cy="431.50" r="1.85" fill="#1a70dc"/>
<path d="M172.90,436.70V442.30" stroke="#1a70dc" stroke-width="1.30"/>
<circle cx="172.90" cy="439.50" r="1.85" fill="#1a70dc"/>
<path d="M180.10,433.80V439.20" stroke="#1a70dc" stroke-width="1.30"/>
<circle cx="180.10" cy="436.60" r="1.85" fill="#1a70dc"/>
<path d="M187.00,425.90V432.80" stroke="#1a70dc" stroke-width="1.30"/>
<circle cx="187.00" cy="429.10" r="1.85" fill="#1a70dc"/>
<path d="M194.00,439.00V451.00" stroke="#1a70dc" stroke-width="1.30"/>
<circle cx="194.00" cy="444.50" r="1.85" fill="#1a70dc"/>
<path d="M201.10,439.30V451.30" stroke="#1a70dc" stroke-width="1.30"/>
<circle cx="201.10" cy="445.30" r="1.85" fill="#1a70dc"/>
<path d="M207.80,431.50V445.60" stroke="#1a70dc" stroke-width="1.30"/>
<circle cx="207.80" cy="437.70" r="1.85" fill="#1a70dc"/>
<path d="M215.10,427.40V444.60" stroke="#1a70dc" stroke-width="1.30"/>
<circle cx="215.10" cy="434.90" r="1.85" fill="#1a70dc"/>
<path d="M222.00,443.70V495.00" stroke="#1a70dc" stroke-width="1.30"/>
<circle cx="222.00" cy="448.00" r="1.85" fill="#1a70dc"/>
<circle cx="222.00" cy="464.60" r="1.85" fill="#1a70dc"/>
<path d="M229.10,427.60V460.40" stroke="#1a70dc" stroke-width="1.30"/>
<circle cx="229.10" cy="440.90" r="1.85" fill="#1a70dc"/>
<path d="M236.10,410.20V435.50" stroke="#1a70dc" stroke-width="1.30"/>
<circle cx="236.10" cy="421.00" r="1.85" fill="#1a70dc"/>
<path d="M242.80,416.50V463.50" stroke="#1a70dc" stroke-width="1.30"/>
<circle cx="242.80" cy="433.90" r="1.85" fill="#1a70dc"/>
<circle cx="242.60" cy="453.40" r="1.85" fill="#1a70dc"/>
<circle cx="232.10" cy="456.80" r="1.85" fill="#1a70dc"/>
<circle cx="234.30" cy="426.60" r="1.85" fill="#1a70dc"/>
<path d="M249.90,454.30V460.20" stroke="#1a70dc" stroke-width="1.30"/>
<circle cx="249.90" cy="457.10" r="1.85" fill="#1a70dc"/>
<circle cx="252.60" cy="468.60" r="1.85" fill="#1a70dc"/>
<path d="M259.30,465.20V471.90" stroke="#1a70dc" stroke-width="1.30"/>
<circle cx="259.30" cy="468.60" r="1.85" fill="#1a70dc"/>
<circle cx="263.50" cy="473.60" r="1.85" fill="#1a70dc"/>
<path d="M267.70,468.60V476.10" stroke="#1a70dc" stroke-width="1.30"/>
<circle cx="267.70" cy="471.90" r="1.85" fill="#1a70dc"/>
<path d="M274.00,486.70V491.80" stroke="#1a70dc" stroke-width="1.30"/>
<circle cx="274.00" cy="488.90" r="1.85" fill="#1a70dc"/>
<path d="M275.60,473.60V483.00" stroke="#1a70dc" stroke-width="1.30"/>
<circle cx="275.60" cy="477.80" r="1.85" fill="#1a70dc"/>
<path d="M284.30,487.00V506.60" stroke="#1a70dc" stroke-width="1.30"/>
<circle cx="284.30" cy="495.30" r="1.85" fill="#1a70dc"/>
<circle cx="284.30" cy="499.80" r="1.85" fill="#1a70dc"/>
<path d="M292.50,491.40V511.90" stroke="#1a70dc" stroke-width="1.30"/>
<circle cx="292.50" cy="500.20" r="1.85" fill="#1a70dc"/>
<path d="M294.50,515.40V541.70" stroke="#1a70dc" stroke-width="1.30"/>
<circle cx="294.50" cy="524.50" r="1.85" fill="#1a70dc"/>
<circle cx="300.80" cy="506.40" r="1.85" fill="#1a70dc"/>
<circle cx="305.10" cy="508.30" r="1.85" fill="#1a70dc"/>
<path d="M122.80,456.10V466.20" stroke="#17a296" stroke-width="1.30"/>
<rect x="120.00" y="457.60" width="5.60" height="5.60" fill="#17a296"/>
<rect x="141.10" y="447.30" width="5.60" height="5.60" fill="#17a296"/>
<rect x="162.00" y="442.70" width="5.60" height="5.60" fill="#17a296"/>
<rect x="183.60" y="432.00" width="5.60" height="5.60" fill="#17a296"/>
<rect x="203.30" y="427.80" width="5.60" height="5.60" fill="#17a296"/>
<rect x="224.30" y="431.00" width="5.60" height="5.60" fill="#17a296"/>
<path d="M248.10,422.60V434.50" stroke="#17a296" stroke-width="1.30"/>
<rect x="245.30" y="425.00" width="5.60" height="5.60" fill="#17a296"/>
<rect x="266.60" y="421.70" width="5.60" height="5.60" fill="#17a296"/>
<path d="M108.30,437.10L113.10,441.90M108.30,441.90L113.10,437.10" stroke="#15ba15" stroke-width="1.20" fill="none"/>
<path d="M118.70,448.10L123.50,452.90M118.70,452.90L123.50,448.10" stroke="#15ba15" stroke-width="1.20" fill="none"/>
<path d="M127.20,453.50L132.00,458.30M127.20,458.30L132.00,453.50" stroke="#15ba15" stroke-width="1.20" fill="none"/>
<path d="M138.80,443.30V462.90" stroke="#15ba15" stroke-width="1.30"/>
<path d="M136.40,448.50L141.20,453.30M136.40,453.30L141.20,448.50" stroke="#15ba15" stroke-width="1.20" fill="none"/>
<path d="M149.60,437.70V447.80" stroke="#15ba15" stroke-width="1.30"/>
<path d="M147.20,440.40L152.00,445.20M147.20,445.20L152.00,440.40" stroke="#15ba15" stroke-width="1.20" fill="none"/>
<path d="M159.90,436.00V446.10" stroke="#15ba15" stroke-width="1.30"/>
<path d="M157.50,437.90L162.30,442.70M157.50,442.70L162.30,437.90" stroke="#15ba15" stroke-width="1.20" fill="none"/>
<path d="M170.00,429.00V437.50" stroke="#15ba15" stroke-width="1.30"/>
<path d="M167.60,430.60L172.40,435.40M167.60,435.40L172.40,430.60" stroke="#15ba15" stroke-width="1.20" fill="none"/>
<path d="M180.10,427.20V436.00" stroke="#15ba15" stroke-width="1.30"/>
<path d="M177.70,429.00L182.50,433.80M177.70,433.80L182.50,429.00" stroke="#15ba15" stroke-width="1.20" fill="none"/>
<path d="M190.90,416.40V422.90" stroke="#15ba15" stroke-width="1.30"/>
<path d="M188.50,417.20L193.30,422.00M188.50,422.00L193.30,417.20" stroke="#15ba15" stroke-width="1.20" fill="none"/>
<path d="M201.30,413.90V420.40" stroke="#15ba15" stroke-width="1.30"/>
<path d="M198.90,414.90L203.70,419.70M198.90,419.70L203.70,414.90" stroke="#15ba15" stroke-width="1.20" fill="none"/>
<path d="M211.70,421.00V438.10" stroke="#15ba15" stroke-width="1.30"/>
<path d="M209.30,424.80L214.10,429.60M209.30,429.60L214.10,424.80" stroke="#15ba15" stroke-width="1.20" fill="none"/>
<path d="M221.80,410.80V427.00" stroke="#15ba15" stroke-width="1.30"/>
<path d="M219.40,414.30L224.20,419.10M219.40,419.10L224.20,414.30" stroke="#15ba15" stroke-width="1.20" fill="none"/>
<path d="M232.00,400.70V427.20" stroke="#15ba15" stroke-width="1.30"/>
<path d="M229.60,412.10L234.40,416.90M229.60,416.90L234.40,412.10" stroke="#15ba15" stroke-width="1.20" fill="none"/>
<path d="M306.30,435.40V443.90" stroke="#15ba15" stroke-width="1.30"/>
<path d="M303.90,437.10L308.70,441.90M303.90,441.90L308.70,437.10" stroke="#15ba15" stroke-width="1.20" fill="none"/>
<path d="M309.70,433.10V440.00" stroke="#15ba15" stroke-width="1.30"/>
<path d="M307.30,434.10L312.10,438.90M307.30,438.90L312.10,434.10" stroke="#15ba15" stroke-width="1.20" fill="none"/>
<path d="M313.30,449.80V466.60" stroke="#15ba15" stroke-width="1.30"/>
<path d="M310.90,454.00L315.70,458.80M310.90,458.80L315.70,454.00" stroke="#15ba15" stroke-width="1.20" fill="none"/>
<path d="M317.40,442.10V456.20" stroke="#15ba15" stroke-width="1.30"/>
<path d="M315.00,444.80L319.80,449.60M315.00,449.60L319.80,444.80" stroke="#15ba15" stroke-width="1.20" fill="none"/>
<path d="M320.60,454.00V480.90" stroke="#15ba15" stroke-width="1.30"/>
<path d="M318.20,461.20L323.00,466.00M318.20,466.00L323.00,461.20" stroke="#15ba15" stroke-width="1.20" fill="none"/>
<path d="M323.80,445.60V456.10" stroke="#15ba15" stroke-width="1.30"/>
<path d="M321.40,447.80L326.20,452.60M321.40,452.60L326.20,447.80" stroke="#15ba15" stroke-width="1.20" fill="none"/>
<path d="M230.00,400.10L234.40,404.50M230.00,404.50L234.40,400.10" stroke="#15ba15" stroke-width="1.25" fill="none"/>
<path d="M233.10,401.30L237.50,405.70M233.10,405.70L237.50,401.30" stroke="#15ba15" stroke-width="1.25" fill="none"/>
<path d="M236.30,401.00L240.70,405.40M236.30,405.40L240.70,401.00" stroke="#15ba15" stroke-width="1.25" fill="none"/>
<path d="M239.40,402.30L243.80,406.70M239.40,406.70L243.80,402.30" stroke="#15ba15" stroke-width="1.25" fill="none"/>
<path d="M242.60,402.80L247.00,407.20M242.60,407.20L247.00,402.80" stroke="#15ba15" stroke-width="1.25" fill="none"/>
<path d="M245.70,405.80L250.10,410.20M245.70,410.20L250.10,405.80" stroke="#15ba15" stroke-width="1.25" fill="none"/>
<path d="M248.90,406.80L253.30,411.20M248.90,411.20L253.30,406.80" stroke="#15ba15" stroke-width="1.25" fill="none"/>
<path d="M252.00,407.10L256.40,411.50M252.00,411.50L256.40,407.10" stroke="#15ba15" stroke-width="1.25" fill="none"/>
<path d="M255.20,408.50L259.60,412.90M255.20,412.90L259.60,408.50" stroke="#15ba15" stroke-width="1.25" fill="none"/>
<path d="M258.30,409.60L262.70,414.00M258.30,414.00L262.70,409.60" stroke="#15ba15" stroke-width="1.25" fill="none"/>
<path d="M261.50,408.80L265.90,413.20M261.50,413.20L265.90,408.80" stroke="#15ba15" stroke-width="1.25" fill="none"/>
<path d="M264.60,408.00L269.00,412.40M264.60,412.40L269.00,408.00" stroke="#15ba15" stroke-width="1.25" fill="none"/>
<path d="M267.80,408.50L272.20,412.90M267.80,412.90L272.20,408.50" stroke="#15ba15" stroke-width="1.25" fill="none"/>
<path d="M270.90,409.10L275.30,413.50M270.90,413.50L275.30,409.10" stroke="#15ba15" stroke-width="1.25" fill="none"/>
<path d="M274.10,412.30L278.50,416.70M274.10,416.70L278.50,412.30" stroke="#15ba15" stroke-width="1.25" fill="none"/>
<path d="M277.20,413.20L281.60,417.60M277.20,417.60L281.60,413.20" stroke="#15ba15" stroke-width="1.25" fill="none"/>
<path d="M280.40,412.90L284.80,417.30M280.40,417.30L284.80,412.90" stroke="#15ba15" stroke-width="1.25" fill="none"/>
<path d="M283.50,413.90L287.90,418.30M283.50,418.30L287.90,413.90" stroke="#15ba15" stroke-width="1.25" fill="none"/>
<path d="M286.70,414.80L291.10,419.20M286.70,419.20L291.10,414.80" stroke="#15ba15" stroke-width="1.25" fill="none"/>
<path d="M289.80,417.30L294.20,421.70M289.80,421.70L294.20,417.30" stroke="#15ba15" stroke-width="1.25" fill="none"/>
<path d="M293.00,419.20L297.40,423.60M293.00,423.60L297.40,419.20" stroke="#15ba15" stroke-width="1.25" fill="none"/>
<path d="M296.10,422.40L300.50,426.80M296.10,426.80L300.50,422.40" stroke="#15ba15" stroke-width="1.25" fill="none"/>
<path d="M299.30,425.20L303.70,429.60M299.30,429.60L303.70,425.20" stroke="#15ba15" stroke-width="1.25" fill="none"/>
<polygon points="146.90,423.78 150.00,429.98 143.80,429.98" fill="#72f000"/>
<polygon points="172.70,421.08 175.80,427.28 169.60,427.28" fill="#72f000"/>
<polygon points="198.40,410.38 201.50,416.58 195.30,416.58" fill="#72f000"/>
<path d="M224.70,407.70V419.00" stroke="#72f000" stroke-width="1.30"/>
<polygon points="224.70,409.08 227.80,415.28 221.60,415.28" fill="#72f000"/>
<path d="M242.70,407.00V414.00" stroke="#72f000" stroke-width="1.30"/>
<polygon points="242.70,406.88 245.80,413.08 239.60,413.08" fill="#72f000"/>
<polygon points="249.30,400.38 252.40,406.58 246.20,406.58" fill="#72f000"/>
<polygon points="255.80,401.28 258.90,407.48 252.70,407.48" fill="#72f000"/>
<polygon points="262.40,400.58 265.50,406.78 259.30,406.78" fill="#72f000"/>
<polygon points="269.40,399.28 272.50,405.48 266.30,405.48" fill="#72f000"/>
<polygon points="276.10,400.08 279.20,406.28 273.00,406.28" fill="#72f000"/>
<polygon points="283.30,405.18 286.40,411.38 280.20,411.38" fill="#72f000"/>
<polygon points="290.40,410.18 293.50,416.38 287.30,416.38" fill="#72f000"/>
<polygon points="297.40,412.78 300.50,418.98 294.30,418.98" fill="#72f000"/>
<path d="M304.20,425.40V432.30" stroke="#72f000" stroke-width="1.30"/>
<polygon points="304.20,425.18 307.30,431.38 301.10,431.38" fill="#72f000"/>
<path d="M311.00,442.60V459.50" stroke="#72f000" stroke-width="1.30"/>
<polygon points="311.00,442.38 314.10,448.58 307.90,448.58" fill="#72f000"/>
<path d="M317.50,456.50V494.60" stroke="#72f000" stroke-width="1.30"/>
<polygon points="317.50,456.88 320.60,463.08 314.40,463.08" fill="#72f000"/>
<path d="M88.30,405.30V410.50" stroke="#ffbe00" stroke-width="1.30"/>
<polygon points="88.30,403.90 91.00,407.80 88.30,411.70 85.60,407.80" fill="#ffbe00"/>
<path d="M94.00,403.60V424.60" stroke="#ffbe00" stroke-width="1.30"/>
<polygon points="94.00,407.30 96.70,411.20 94.00,415.10 91.30,411.20" fill="#ffbe00"/>
<path d="M99.60,384.30V391.80" stroke="#ffbe00" stroke-width="1.30"/>
<polygon points="99.60,384.90 102.30,388.80 99.60,392.70 96.90,388.80" fill="#ffbe00"/>
<polygon points="105.30,381.40 108.00,385.30 105.30,389.20 102.60,385.30" fill="#ffbe00"/>
<polygon points="110.90,375.90 113.60,379.80 110.90,383.70 108.20,379.80" fill="#ffbe00"/>
<polygon points="116.40,373.20 119.10,377.10 116.40,381.00 113.70,377.10" fill="#ffbe00"/>
<polygon points="122.50,371.20 125.20,375.10 122.50,379.00 119.80,375.10" fill="#ffbe00"/>
<polygon points="128.00,371.60 130.70,375.50 128.00,379.40 125.30,375.50" fill="#ffbe00"/>
<polygon points="134.00,372.30 136.70,376.20 134.00,380.10 131.30,376.20" fill="#ffbe00"/>
<polygon points="139.50,373.20 142.20,377.10 139.50,381.00 136.80,377.10" fill="#ffbe00"/>
<polygon points="145.00,374.20 147.70,378.10 145.00,382.00 142.30,378.10" fill="#ffbe00"/>
<polygon points="150.70,379.60 153.40,383.50 150.70,387.40 148.00,383.50" fill="#ffbe00"/>
<polygon points="156.60,386.00 159.30,389.90 156.60,393.80 153.90,389.90" fill="#ffbe00"/>
<polygon points="162.20,390.30 164.90,394.20 162.20,398.10 159.50,394.20" fill="#ffbe00"/>
<polygon points="167.70,395.00 170.40,398.90 167.70,402.80 165.00,398.90" fill="#ffbe00"/>
<polygon points="173.80,407.30 176.50,411.20 173.80,415.10 171.10,411.20" fill="#ffbe00"/>
<path d="M179.50,417.00V426.50" stroke="#ffbe00" stroke-width="1.30"/>
<polygon points="179.50,417.40 182.20,421.30 179.50,425.20 176.80,421.30" fill="#ffbe00"/>
<path d="M185.20,431.00V446.70" stroke="#ffbe00" stroke-width="1.30"/>
<polygon points="185.20,431.50 187.90,435.40 185.20,439.30 182.50,435.40" fill="#ffbe00"/>
<path d="M190.90,423.40V439.80" stroke="#ffbe00" stroke-width="1.30"/>
<polygon points="190.90,426.20 193.60,430.10 190.90,434.00 188.20,430.10" fill="#ffbe00"/>
<path d="M196.70,431.40V459.30" stroke="#ffbe00" stroke-width="1.30"/>
<polygon points="196.70,436.60 199.40,440.50 196.70,444.40 194.00,440.50" fill="#ffbe00"/>
<path d="M208.10,422.60V440.20" stroke="#ffbe00" stroke-width="1.30"/>
<polygon points="208.10,426.00 210.80,429.90 208.10,433.80 205.40,429.90" fill="#ffbe00"/>
<path d="M82.80,410.30V421.30" stroke="#e8000b" stroke-width="1.30"/>
<polygon points="82.80,412.30 83.71,414.15 85.75,414.44 84.27,415.88 84.62,417.91 82.80,416.95 80.98,417.91 81.33,415.88 79.85,414.44 81.89,414.15" fill="#e8000b"/>
<path d="M88.30,407.00V412.50" stroke="#e8000b" stroke-width="1.30"/>
<polygon points="88.30,406.70 89.21,408.55 91.25,408.84 89.77,410.28 90.12,412.31 88.30,411.35 86.48,412.31 86.83,410.28 85.35,408.84 87.39,408.55" fill="#e8000b"/>
<polygon points="94.00,396.60 94.91,398.45 96.95,398.74 95.47,400.18 95.82,402.21 94.00,401.25 92.18,402.21 92.53,400.18 91.05,398.74 93.09,398.45" fill="#e8000b"/>
<polygon points="99.60,391.80 100.51,393.65 102.55,393.94 101.07,395.38 101.42,397.41 99.60,396.45 97.78,397.41 98.13,395.38 96.65,393.94 98.69,393.65" fill="#e8000b"/>
<polygon points="105.30,386.80 106.21,388.65 108.25,388.94 106.77,390.38 107.12,392.41 105.30,391.45 103.48,392.41 103.83,390.38 102.35,388.94 104.39,388.65" fill="#e8000b"/>
<polygon points="110.90,385.80 111.81,387.65 113.85,387.94 112.37,389.38 112.72,391.41 110.90,390.45 109.08,391.41 109.43,389.38 107.95,387.94 109.99,387.65" fill="#e8000b"/>
<polygon points="116.40,383.40 117.31,385.25 119.35,385.54 117.87,386.98 118.22,389.01 116.40,388.05 114.58,389.01 114.93,386.98 113.45,385.54 115.49,385.25" fill="#e8000b"/>
<polygon points="122.40,380.40 123.31,382.25 125.35,382.54 123.87,383.98 124.22,386.01 122.40,385.05 120.58,386.01 120.93,383.98 119.45,382.54 121.49,382.25" fill="#e8000b"/>
<polygon points="128.00,378.70 128.91,380.55 130.95,380.84 129.47,382.28 129.82,384.31 128.00,383.35 126.18,384.31 126.53,382.28 125.05,380.84 127.09,380.55" fill="#e8000b"/>
<polygon points="133.50,380.40 134.41,382.25 136.45,382.54 134.97,383.98 135.32,386.01 133.50,385.05 131.68,386.01 132.03,383.98 130.55,382.54 132.59,382.25" fill="#e8000b"/>
<polygon points="139.50,380.90 140.41,382.75 142.45,383.04 140.97,384.48 141.32,386.51 139.50,385.55 137.68,386.51 138.03,384.48 136.55,383.04 138.59,382.75" fill="#e8000b"/>
<polygon points="145.00,381.20 145.91,383.05 147.95,383.34 146.47,384.78 146.82,386.81 145.00,385.85 143.18,386.81 143.53,384.78 142.05,383.34 144.09,383.05" fill="#e8000b"/>
<polygon points="150.70,382.90 151.61,384.75 153.65,385.04 152.17,386.48 152.52,388.51 150.70,387.55 148.88,388.51 149.23,386.48 147.75,385.04 149.79,384.75" fill="#e8000b"/>
<polygon points="156.60,381.70 157.51,383.55 159.55,383.84 158.07,385.28 158.42,387.31 156.60,386.35 154.78,387.31 155.13,385.28 153.65,383.84 155.69,383.55" fill="#e8000b"/>
<polygon points="162.20,384.20 163.11,386.05 165.15,386.34 163.67,387.78 164.02,389.81 162.20,388.85 160.38,389.81 160.73,387.78 159.25,386.34 161.29,386.05" fill="#e8000b"/>
<polygon points="167.90,387.90 168.81,389.75 170.85,390.04 169.37,391.48 169.72,393.51 167.90,392.55 166.08,393.51 166.43,391.48 164.95,390.04 166.99,389.75" fill="#e8000b"/>
<polygon points="173.80,391.60 174.71,393.45 176.75,393.74 175.27,395.18 175.62,397.21 173.80,396.25 171.98,397.21 172.33,395.18 170.85,393.74 172.89,393.45" fill="#e8000b"/>
<polygon points="179.70,391.60 180.61,393.45 182.65,393.74 181.17,395.18 181.52,397.21 179.70,396.25 177.88,397.21 178.23,395.18 176.75,393.74 178.79,393.45" fill="#e8000b"/>
<polygon points="185.20,396.90 186.11,398.75 188.15,399.04 186.67,400.48 187.02,402.51 185.20,401.55 183.38,402.51 183.73,400.48 182.25,399.04 184.29,398.75" fill="#e8000b"/>
<path d="M190.90,401.50V407.80" stroke="#e8000b" stroke-width="1.30"/>
<polygon points="190.90,401.50 191.81,403.35 193.85,403.64 192.37,405.08 192.72,407.11 190.90,406.15 189.08,407.11 189.43,405.08 187.95,403.64 189.99,403.35" fill="#e8000b"/>
<path d="M196.60,398.20V405.30" stroke="#e8000b" stroke-width="1.30"/>
<polygon points="196.60,398.60 197.51,400.45 199.55,400.74 198.07,402.18 198.42,404.21 196.60,403.25 194.78,404.21 195.13,402.18 193.65,400.74 195.69,400.45" fill="#e8000b"/>
<path d="M202.20,419.60V432.50" stroke="#e8000b" stroke-width="1.30"/>
<polygon points="202.20,421.60 203.11,423.45 205.15,423.74 203.67,425.18 204.02,427.21 202.20,426.25 200.38,427.21 200.73,425.18 199.25,423.74 201.29,423.45" fill="#e8000b"/>
<path d="M208.10,404.60V416.20" stroke="#e8000b" stroke-width="1.30"/>
<polygon points="208.10,406.50 209.01,408.35 211.05,408.64 209.57,410.08 209.92,412.11 208.10,411.15 206.28,412.11 206.63,410.08 205.15,408.64 207.19,408.35" fill="#e8000b"/>
<path d="M220.00,430.20V445.00" stroke="#e8000b" stroke-width="1.30"/>
<polygon points="220.00,433.40 220.91,435.25 222.95,435.54 221.47,436.98 221.82,439.01 220.00,438.05 218.18,439.01 218.53,436.98 217.05,435.54 219.09,435.25" fill="#e8000b"/>
<path d="M230.70,455.50V489.50" stroke="#e8000b" stroke-width="1.30"/>
<polygon points="230.70,463.40 231.61,465.25 233.65,465.54 232.17,466.98 232.52,469.01 230.70,468.05 228.88,469.01 229.23,466.98 227.75,465.54 229.79,465.25" fill="#e8000b"/>
<path d="M241.30,455.20V472.80" stroke="#e8000b" stroke-width="1.30"/>
<polygon points="241.30,457.10 242.21,458.95 244.25,459.24 242.77,460.68 243.12,462.71 241.30,461.75 239.48,462.71 239.83,460.68 238.35,459.24 240.39,458.95" fill="#e8000b"/>
<path d="M251.80,465.20V485.40" stroke="#e8000b" stroke-width="1.30"/>
<polygon points="251.80,469.70 252.71,471.55 254.75,471.84 253.27,473.28 253.62,475.31 251.80,474.35 249.98,475.31 250.33,473.28 248.85,471.84 250.89,471.55" fill="#e8000b"/>
<path d="M262.20,474.50V510.30" stroke="#e8000b" stroke-width="1.30"/>
<polygon points="262.20,483.20 263.11,485.05 265.15,485.34 263.67,486.78 264.02,488.81 262.20,487.85 260.38,488.81 260.73,486.78 259.25,485.34 261.29,485.05" fill="#e8000b"/>
</g>
<path d="M63.07,549.60V547.80M63.07,321.60V323.40M70.42,549.60V547.80M70.42,321.60V323.40M75.63,549.60V547.80M75.63,321.60V323.40M79.68,549.60V547.80M79.68,321.60V323.40M82.98,549.60V547.80M82.98,321.60V323.40M85.78,549.60V547.80M85.78,321.60V323.40M88.20,549.60V547.80M88.20,321.60V323.40M90.33,549.60V547.80M90.33,321.60V323.40M92.24,549.60V546.60M92.24,321.60V324.60M104.81,549.60V547.80M104.81,321.60V323.40M112.16,549.60V547.80M112.16,321.60V323.40M117.37,549.60V547.80M117.37,321.60V323.40M121.42,549.60V547.80M121.42,321.60V323.40M124.73,549.60V547.80M124.73,321.60V323.40M127.52,549.60V547.80M127.52,321.60V323.40M129.94,549.60V547.80M129.94,321.60V323.40M132.08,549.60V547.80M132.08,321.60V323.40M133.99,549.60V546.60M133.99,321.60V324.60M146.55,549.60V547.80M146.55,321.60V323.40M153.90,549.60V547.80M153.90,321.60V323.40M159.12,549.60V547.80M159.12,321.60V323.40M163.16,549.60V547.80M163.16,321.60V323.40M166.47,549.60V547.80M166.47,321.60V323.40M169.26,549.60V547.80M169.26,321.60V323.40M171.68,549.60V547.80M171.68,321.60V323.40M173.82,549.60V547.80M173.82,321.60V323.40M175.73,549.60V546.60M175.73,321.60V324.60M188.29,549.60V547.80M188.29,321.60V323.40M195.64,549.60V547.80M195.64,321.60V323.40M200.86,549.60V547.80M200.86,321.60V323.40M204.91,549.60V547.80M204.91,321.60V323.40M208.21,549.60V547.80M208.21,321.60V323.40M211.01,549.60V547.80M211.01,321.60V323.40M213.43,549.60V547.80M213.43,321.60V323.40M215.56,549.60V547.80M215.56,321.60V323.40M217.47,549.60V546.60M217.47,321.60V324.60M230.04,549.60V547.80M230.04,321.60V323.40M237.39,549.60V547.80M237.39,321.60V323.40M242.60,549.60V547.80M242.60,321.60V323.40M246.65,549.60V547.80M246.65,321.60V323.40M249.95,549.60V547.80M249.95,321.60V323.40M252.75,549.60V547.80M252.75,321.60V323.40M255.17,549.60V547.80M255.17,321.60V323.40M257.30,549.60V547.80M257.30,321.60V323.40M259.21,549.60V546.60M259.21,321.60V324.60M271.78,549.60V547.80M271.78,321.60V323.40M279.13,549.60V547.80M279.13,321.60V323.40M284.35,549.60V547.80M284.35,321.60V323.40M288.39,549.60V547.80M288.39,321.60V323.40M291.70,549.60V547.80M291.70,321.60V323.40M294.49,549.60V547.80M294.49,321.60V323.40M296.91,549.60V547.80M296.91,321.60V323.40M299.05,549.60V547.80M299.05,321.60V323.40M300.96,549.60V546.60M300.96,321.60V324.60M313.52,549.60V547.80M313.52,321.60V323.40M320.87,549.60V547.80M320.87,321.60V323.40M326.09,549.60V547.80M326.09,321.60V323.40M330.13,549.60V547.80M330.13,321.60V323.40M333.44,549.60V547.80M333.44,321.60V323.40M336.23,549.60V547.80M336.23,321.60V323.40M338.65,549.60V547.80M338.65,321.60V323.40M340.79,549.60V547.80M340.79,321.60V323.40M50.50,546.13H52.30M342.70,546.13H340.90M50.50,542.80H52.30M342.70,542.80H340.90M50.50,539.92H52.30M342.70,539.92H340.90M50.50,537.37H52.30M342.70,537.37H340.90M50.50,535.10H53.50M342.70,535.10H339.70M50.50,520.14H52.30M342.70,520.14H340.90M50.50,511.39H52.30M342.70,511.39H340.90M50.50,505.18H52.30M342.70,505.18H340.90M50.50,500.36H52.30M342.70,500.36H340.90M50.50,496.43H52.30M342.70,496.43H340.90M50.50,493.10H52.30M342.70,493.10H340.90M50.50,490.22H52.30M342.70,490.22H340.90M50.50,487.67H52.30M342.70,487.67H340.90M50.50,485.40H53.50M342.70,485.40H339.70M50.50,470.44H52.30M342.70,470.44H340.90M50.50,461.69H52.30M342.70,461.69H340.90M50.50,455.48H52.30M342.70,455.48H340.90M50.50,450.66H52.30M342.70,450.66H340.90M50.50,446.73H52.30M342.70,446.73H340.90M50.50,443.40H52.30M342.70,443.40H340.90M50.50,440.52H52.30M342.70,440.52H340.90M50.50,437.97H52.30M342.70,437.97H340.90M50.50,435.70H53.50M342.70,435.70H339.70M50.50,420.74H52.30M342.70,420.74H340.90M50.50,411.99H52.30M342.70,411.99H340.90M50.50,405.78H52.30M342.70,405.78H340.90M50.50,400.96H52.30M342.70,400.96H340.90M50.50,397.03H52.30M342.70,397.03H340.90M50.50,393.70H52.30M342.70,393.70H340.90M50.50,390.82H52.30M342.70,390.82H340.90M50.50,388.27H52.30M342.70,388.27H340.90M50.50,386.00H53.50M342.70,386.00H339.70M50.50,371.04H52.30M342.70,371.04H340.90M50.50,362.29H52.30M342.70,362.29H340.90M50.50,356.08H52.30M342.70,356.08H340.90M50.50,351.26H52.30M342.70,351.26H340.90M50.50,347.33H52.30M342.70,347.33H340.90M50.50,344.00H52.30M342.70,344.00H340.90M50.50,341.12H52.30M342.70,341.12H340.90M50.50,338.57H52.30M342.70,338.57H340.90M50.50,336.30H53.50M342.70,336.30H339.70" stroke="#000" stroke-width="0.80" fill="none"/>
<rect x="50.50" y="321.60" width="292.20" height="228.00" fill="none" stroke="#000" stroke-width="1.1"/>
<text x="39.69" y="560.10" font-size="10.0" textLength="11.83" lengthAdjust="spacingAndGlyphs">10</text>
<text x="51.72" y="556.10" font-size="7.0" textLength="9.58" lengthAdjust="spacingAndGlyphs">−2</text>
<text x="81.44" y="560.10" font-size="10.0" textLength="11.83" lengthAdjust="spacingAndGlyphs">10</text>
<text x="93.47" y="556.10" font-size="7.0" textLength="9.58" lengthAdjust="spacingAndGlyphs">−1</text>
<text x="125.90" y="560.10" font-size="10.0" textLength="11.83" lengthAdjust="spacingAndGlyphs">10</text>
<text x="137.93" y="556.10" font-size="7.0" textLength="4.13" lengthAdjust="spacingAndGlyphs">0</text>
<text x="167.65" y="560.10" font-size="10.0" textLength="11.83" lengthAdjust="spacingAndGlyphs">10</text>
<text x="179.68" y="556.10" font-size="7.0" textLength="4.13" lengthAdjust="spacingAndGlyphs">1</text>
<text x="209.39" y="560.10" font-size="10.0" textLength="11.83" lengthAdjust="spacingAndGlyphs">10</text>
<text x="221.42" y="556.10" font-size="7.0" textLength="4.13" lengthAdjust="spacingAndGlyphs">2</text>
<text x="251.13" y="560.10" font-size="10.0" textLength="11.83" lengthAdjust="spacingAndGlyphs">10</text>
<text x="263.16" y="556.10" font-size="7.0" textLength="4.13" lengthAdjust="spacingAndGlyphs">3</text>
<text x="292.88" y="560.10" font-size="10.0" textLength="11.83" lengthAdjust="spacingAndGlyphs">10</text>
<text x="304.90" y="556.10" font-size="7.0" textLength="4.13" lengthAdjust="spacingAndGlyphs">4</text>
<text x="334.62" y="560.10" font-size="10.0" textLength="11.83" lengthAdjust="spacingAndGlyphs">10</text>
<text x="346.65" y="556.10" font-size="7.0" textLength="4.13" lengthAdjust="spacingAndGlyphs">5</text>
<text x="21.86" y="539.40" font-size="10.0" textLength="11.83" lengthAdjust="spacingAndGlyphs">10</text>
<text x="33.89" y="535.40" font-size="7.0" textLength="13.71" lengthAdjust="spacingAndGlyphs">−13</text>
<text x="21.86" y="489.70" font-size="10.0" textLength="11.83" lengthAdjust="spacingAndGlyphs">10</text>
<text x="33.89" y="485.70" font-size="7.0" textLength="13.71" lengthAdjust="spacingAndGlyphs">−12</text>
<text x="21.86" y="440.00" font-size="10.0" textLength="11.83" lengthAdjust="spacingAndGlyphs">10</text>
<text x="33.89" y="436.00" font-size="7.0" textLength="13.71" lengthAdjust="spacingAndGlyphs">−11</text>
<text x="21.86" y="390.30" font-size="10.0" textLength="11.83" lengthAdjust="spacingAndGlyphs">10</text>
<text x="33.89" y="386.30" font-size="7.0" textLength="13.71" lengthAdjust="spacingAndGlyphs">−10</text>
<text x="25.99" y="340.60" font-size="10.0" textLength="11.83" lengthAdjust="spacingAndGlyphs">10</text>
<text x="38.02" y="336.60" font-size="7.0" textLength="9.58" lengthAdjust="spacingAndGlyphs">−9</text>
<text x="197.10" y="573.30" font-size="10.5" text-anchor="middle" textLength="44" lengthAdjust="spacingAndGlyphs">E [ GeV ]</text>
<text transform="translate(14.9,435.80) rotate(-90)" font-size="10.5" text-anchor="middle" textLength="128" lengthAdjust="spacingAndGlyphs">E<tspan font-size="7" dy="-4">2</tspan><tspan dy="4"> dN/dE [ erg cm</tspan><tspan font-size="7" dy="-4">−2</tspan><tspan dy="4"> s</tspan><tspan font-size="7" dy="-4">−1</tspan><tspan dy="4"> ]</tspan></text>
<path d="M99.00,327.70V336.00" stroke="#1a70dc" stroke-width="1.30"/>
<circle cx="99.00" cy="332.00" r="1.85" fill="#1a70dc"/>
<path d="M99.00,339.30V347.80" stroke="#17a296" stroke-width="1.30"/>
<rect x="96.20" y="340.70" width="5.60" height="5.60" fill="#17a296"/>
<path d="M99.00,350.90V358.90" stroke="#15ba15" stroke-width="1.30"/>
<path d="M96.60,352.60L101.40,357.40M96.60,357.40L101.40,352.60" stroke="#15ba15" stroke-width="1.20" fill="none"/>
<path d="M229.60,327.60V336.60" stroke="#72f000" stroke-width="1.30"/>
<polygon points="229.60,328.68 232.70,334.88 226.50,334.88" fill="#72f000"/>
<path d="M229.60,339.30V347.50" stroke="#ffbe00" stroke-width="1.30"/>
<polygon points="229.60,339.60 232.30,343.50 229.60,347.40 226.90,343.50" fill="#ffbe00"/>
<path d="M229.60,350.90V358.90" stroke="#e8000b" stroke-width="1.30"/>
<polygon points="229.60,351.90 230.51,353.75 232.55,354.04 231.07,355.48 231.42,357.51 229.60,356.55 227.78,357.51 228.13,355.48 226.65,354.04 228.69,353.75" fill="#e8000b"/>
<text x="112.95" y="334.50" font-size="8.40" textLength="71.90" lengthAdjust="spacingAndGlyphs">Cas A: 316-352 yr</text>
<text x="112.95" y="346.00" font-size="8.40" textLength="93.10" lengthAdjust="spacingAndGlyphs">G150.3+4.5: &gt;1,000 yr</text>
<text x="112.95" y="357.60" font-size="8.40" textLength="74.30" lengthAdjust="spacingAndGlyphs">RX J1713: 1,630 yr</text>
<text x="243.65" y="334.50" font-size="8.40" textLength="89.40" lengthAdjust="spacingAndGlyphs">Vela Jr: 2,400-5,100 yr</text>
<text x="243.65" y="346.00" font-size="8.40" textLength="82.50" lengthAdjust="spacingAndGlyphs">W44: 7,900-8,900 yr</text>
<text x="244.15" y="357.60" font-size="8.40" textLength="90.40" lengthAdjust="spacingAndGlyphs">IC443: 3,000-30,000 yr</text>
<text x="178.5" y="604.7" font-size="16.2" text-anchor="middle" font-family="Liberation Serif" style="stroke:none" textLength="19.2" lengthAdjust="spacing">(<tspan font-size="13.8">b</tspan>)</text>
</svg>
</body></html>
